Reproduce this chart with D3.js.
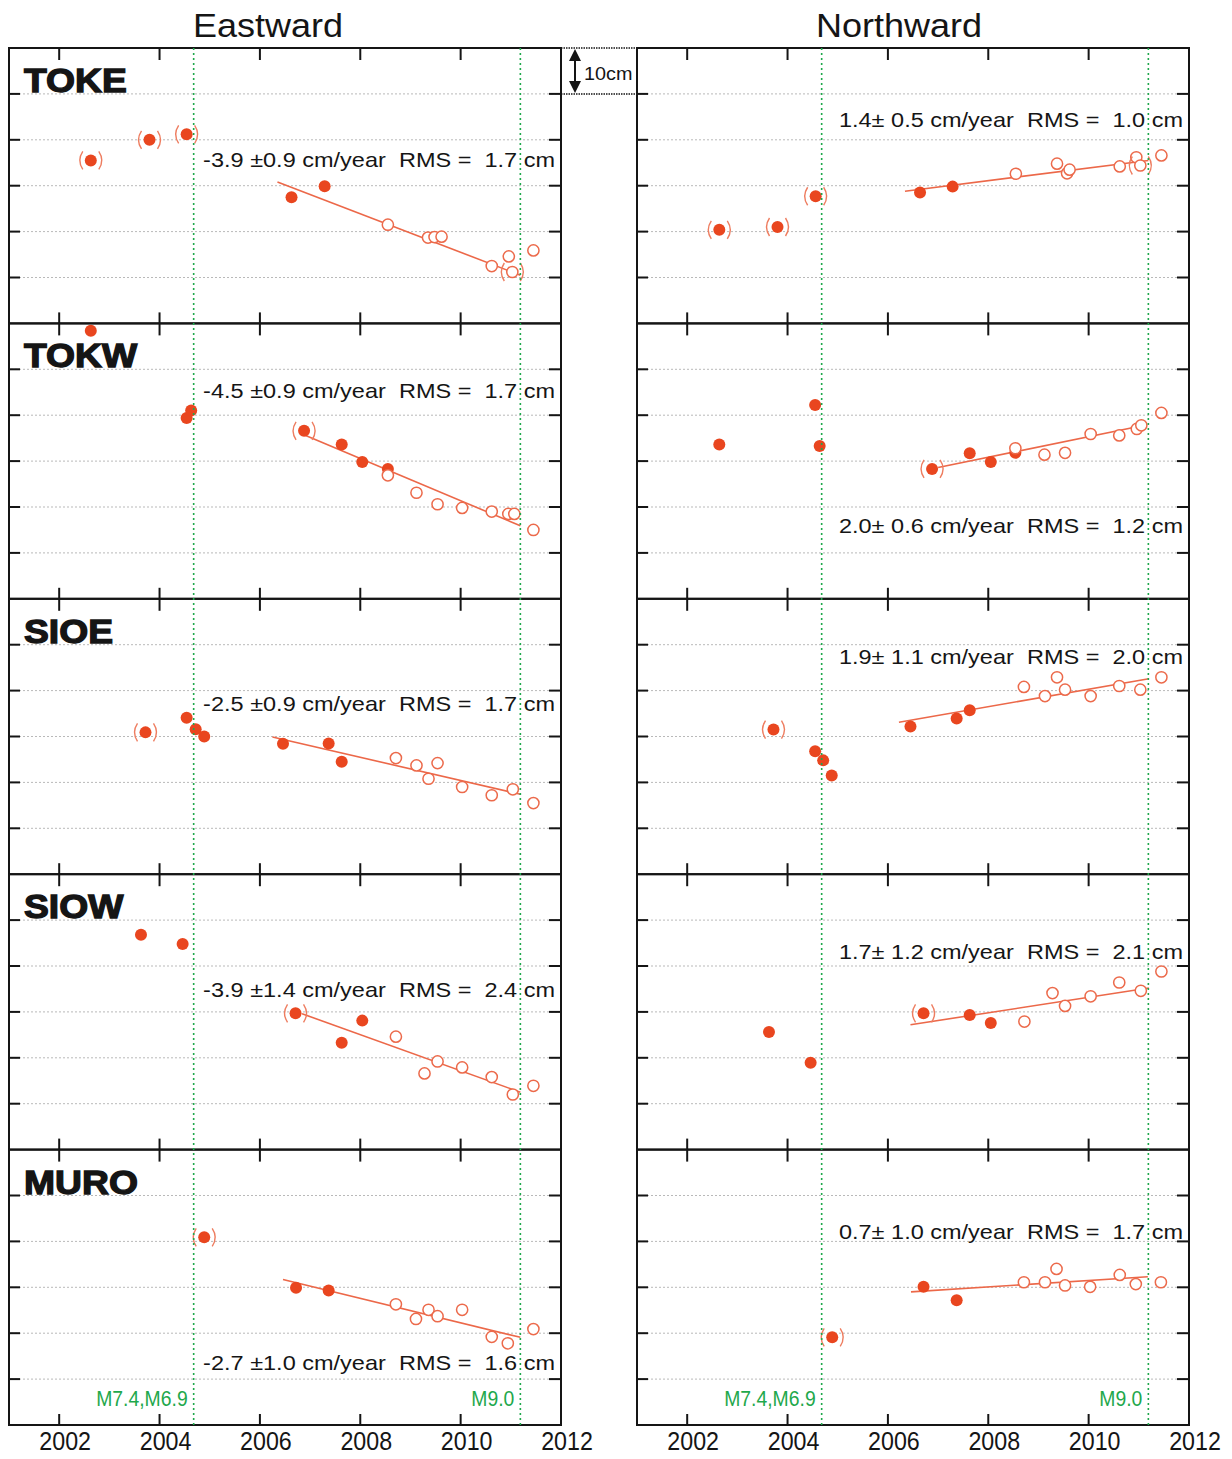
<!DOCTYPE html>
<html>
<head>
<meta charset="utf-8">
<script src="https://cdn.jsdelivr.net/npm/d3@7"></script>
<style>
  body { margin: 0; background: #fff; }
  text { font-family: "Liberation Sans", Arial, Helvetica, sans-serif; white-space: pre; }
</style>
</head>
<body>
<div id="chart"></div>
<script>
// ---- data ----
const stations = ['TOKE', 'TOKW', 'SIOE', 'SIOW', 'MURO'];
const components = ['Eastward', 'Northward'];
const yearTicks = [2002, 2004, 2006, 2008, 2010];
const yearLabels = [2002, 2004, 2006, 2008, 2010, 2012];
const gridCm = [10, 20, 30, 40, 50];
const quakeYears = [2004.68, 2011.19];
const quakeLabels = ['M7.4,M6.9', 'M9.0'];

// velocity fits (cm/year) and RMS (cm)
const rateEast = [-3.9, -4.5, -2.5, -3.9, -2.7];
const errEast = [0.9, 0.9, 0.9, 1.4, 1.0];
const rmsEast = [1.7, 1.7, 1.7, 2.4, 1.6];
const rateNorth = [1.4, 2.0, 1.9, 1.7, 0.7];
const errNorth = [0.5, 0.6, 1.1, 1.2, 1.0];
const rmsNorth = [1.0, 1.2, 2.0, 2.1, 1.7];
// level (cm) where each rate label sits
const labelCmEast = [34.0, 43.7, 35.5, 33.3, 12.0];
const labelCmNorth = [42.8, 14.4, 45.9, 41.5, 40.5];

// points: [year, cm, kind]  f = filled, o = open, pf / po = in parentheses
const tokeE = [
  [2002.63, 35.5, 'pf'], [2003.80, 40.0, 'pf'], [2004.54, 41.2, 'pf'],
  [2006.63, 27.5, 'f'], [2007.29, 29.9, 'f'],
  [2008.55, 21.5, 'o'], [2009.35, 18.7, 'o'], [2009.48, 18.8, 'o'], [2009.62, 18.9, 'o'],
  [2010.62, 12.5, 'o'], [2010.96, 14.6, 'o'], [2011.03, 11.2, 'po'], [2011.45, 15.9, 'o']];
const tokwE = [
  [2002.63, 58.4, 'f'], [2004.54, 39.4, 'f'], [2004.63, 41.0, 'f'],
  [2006.88, 36.6, 'pf'], [2007.63, 33.6, 'f'], [2008.04, 29.8, 'f'], [2008.55, 28.3, 'f'],
  [2008.55, 26.9, 'o'], [2009.12, 23.1, 'o'], [2009.54, 20.6, 'o'], [2010.03, 19.8, 'o'],
  [2010.62, 19.0, 'o'], [2010.95, 18.5, 'o'], [2011.07, 18.5, 'o'], [2011.45, 15.0, 'o']];
const sioeE = [
  [2003.72, 30.9, 'pf'], [2004.54, 34.1, 'f'], [2004.72, 31.6, 'f'], [2004.89, 30.0, 'f'],
  [2006.46, 28.4, 'f'], [2007.37, 28.5, 'f'], [2007.63, 24.5, 'f'],
  [2008.71, 25.3, 'o'], [2009.12, 23.7, 'o'], [2009.36, 20.8, 'o'], [2009.54, 24.2, 'o'],
  [2010.03, 19.0, 'o'], [2010.62, 17.2, 'o'], [2011.04, 18.5, 'o'], [2011.45, 15.5, 'o']];
const siowE = [
  [2003.63, 46.8, 'f'], [2004.46, 44.8, 'f'],
  [2006.71, 29.7, 'pf'], [2007.63, 23.3, 'f'], [2008.04, 28.1, 'f'],
  [2008.71, 24.6, 'o'], [2009.28, 16.6, 'o'], [2009.54, 19.2, 'o'], [2010.03, 17.9, 'o'],
  [2010.62, 15.8, 'o'], [2011.04, 12.0, 'o'], [2011.45, 13.9, 'o']];
const muroE = [
  [2004.89, 40.9, 'pf'], [2006.72, 29.9, 'f'], [2007.37, 29.3, 'f'],
  [2008.71, 26.3, 'o'], [2009.11, 23.1, 'o'], [2009.36, 25.1, 'o'], [2009.54, 23.7, 'o'],
  [2010.03, 25.1, 'o'], [2010.62, 19.2, 'o'], [2010.94, 17.8, 'o'], [2011.45, 20.9, 'o']];

const tokeN = [
  [2002.64, 20.4, 'pf'], [2003.80, 21.0, 'pf'], [2004.56, 27.7, 'pf'],
  [2006.64, 28.5, 'f'], [2007.29, 29.8, 'f'],
  [2008.55, 32.6, 'o'], [2009.37, 34.8, 'o'], [2009.57, 32.7, 'o'], [2009.62, 33.5, 'o'],
  [2010.62, 34.2, 'o'], [2010.95, 36.2, 'o'], [2011.03, 34.4, 'po'], [2011.45, 36.6, 'o']];
const tokwN = [
  [2002.64, 33.6, 'f'], [2004.55, 42.2, 'f'], [2004.64, 33.3, 'f'],
  [2006.88, 28.3, 'pf'], [2007.63, 31.7, 'f'], [2008.05, 29.8, 'f'], [2008.54, 31.8, 'f'],
  [2008.54, 32.8, 'o'], [2009.12, 31.4, 'o'], [2009.53, 31.8, 'o'], [2010.04, 35.9, 'o'],
  [2010.61, 35.6, 'o'], [2010.96, 37.0, 'o'], [2011.05, 37.8, 'o'], [2011.45, 40.5, 'o']];
const sioeN = [
  [2003.72, 31.5, 'pf'], [2004.55, 26.8, 'f'], [2004.71, 24.8, 'f'], [2004.88, 21.5, 'f'],
  [2006.45, 32.2, 'f'], [2007.37, 33.9, 'f'], [2007.63, 35.7, 'f'],
  [2008.71, 40.8, 'o'], [2009.13, 38.8, 'o'], [2009.37, 42.9, 'o'], [2009.53, 40.2, 'o'],
  [2010.04, 38.8, 'o'], [2010.61, 41.0, 'o'], [2011.03, 40.2, 'o'], [2011.45, 42.9, 'o']];
const siowN = [
  [2003.63, 25.6, 'f'], [2004.46, 18.9, 'f'],
  [2006.71, 29.7, 'pf'], [2007.63, 29.3, 'f'], [2008.05, 27.6, 'f'],
  [2008.72, 27.9, 'o'], [2009.28, 34.1, 'o'], [2009.53, 31.3, 'o'], [2010.04, 33.4, 'o'],
  [2010.61, 36.4, 'o'], [2011.04, 34.6, 'o'], [2011.45, 38.8, 'o']];
const muroN = [
  [2004.89, 19.1, 'pf'], [2006.71, 30.1, 'f'], [2007.37, 27.2, 'f'],
  [2008.71, 31.1, 'o'], [2009.13, 31.1, 'o'], [2009.36, 34.0, 'o'], [2009.53, 30.4, 'o'],
  [2010.03, 30.1, 'o'], [2010.62, 32.7, 'o'], [2010.94, 30.7, 'o'], [2011.44, 31.1, 'o']];

// fitted line end points [year, cm]
const fitEast = [
  [[2006.35, 30.8], [2011.19, 10.5]],
  [[2006.84, 35.9], [2011.19, 15.9]],
  [[2006.25, 29.9], [2011.19, 17.4]],
  [[2006.84, 29.6], [2011.19, 12.5]],
  [[2006.46, 31.7], [2011.19, 19.1]]];
const fitNorth = [
  [[2006.34, 28.8], [2011.19, 35.5]],
  [[2007.00, 28.6], [2011.16, 37.9]],
  [[2006.22, 33.1], [2011.20, 42.6]],
  [[2006.45, 27.2], [2011.20, 35.2]],
  [[2006.46, 29.0], [2011.18, 32.3]]];

const pointsEast = [tokeE, tokwE, sioeE, siowE, muroE];
const pointsNorth = [tokeN, tokwN, sioeN, siowN, muroN];

// ---- layout ----
const W = 1232, H = 1459;
const colX = [[9, 561], [637, 1189]];
const top0 = 48, rowH = 275.4;
const C = {
  fill: '#e9461f', open: '#ec6a4b', line: '#ec6849', paren: '#ee7d60',
  grid: '#b9b9b9', green: '#1fa84c', ink: '#151515'
};

const svg = d3.select('#chart').append('svg')
  .attr('width', W).attr('height', H);

// stretched text helper
function stext(g, x, y, str, size, anchor = 'start', sx = 1, fill = C.ink) {
  return g.append('text')
    .attr('transform', `translate(${x},${y}) scale(${sx},1)`)
    .attr('text-anchor', anchor)
    .style('font-size', size + 'px')
    .attr('fill', fill)
    .text(str);
}

const fmt = v => v.toFixed(1);
const rowBottom = r => top0 + (r + 1) * rowH;

components.forEach((comp, c) => {
  const x = d3.scaleLinear().domain([2001, 2012]).range(colX[c]);
  const [x0, x1] = colX[c];
  const g = svg.append('g');

  // column title
  stext(g, c === 0 ? 268 : 899, 37, comp, 34, 'middle', 1.06);

  stations.forEach((st, r) => {
    const y = d3.scaleLinear().domain([0, 60]).range([rowBottom(r), rowBottom(r) - rowH]);
    const p = g.append('g');
    const pts = (c === 0 ? pointsEast : pointsNorth)[r];
    const fit = (c === 0 ? fitEast : fitNorth)[r];

    // grid
    p.selectAll('line.grid').data(gridCm).join('line')
      .attr('x1', x0 + 2).attr('x2', x1 - 2)
      .attr('y1', d => y(d)).attr('y2', d => y(d))
      .attr('stroke', C.grid).attr('stroke-width', 1).attr('stroke-dasharray', '2,2');

    // y ticks (both sides, inward)
    p.selectAll('line.yl').data(gridCm).join('line')
      .attr('x1', x0).attr('x2', x0 + 11)
      .attr('y1', d => y(d)).attr('y2', d => y(d))
      .attr('stroke', C.ink).attr('stroke-width', 2);
    p.selectAll('line.yr').data(gridCm).join('line')
      .attr('x1', x1 - 12).attr('x2', x1)
      .attr('y1', d => y(d)).attr('y2', d => y(d))
      .attr('stroke', C.ink).attr('stroke-width', 2);

    // x ticks top and bottom
    p.selectAll('line.xt').data(yearTicks).join('line')
      .attr('x1', d => x(d)).attr('x2', d => x(d))
      .attr('y1', y(60)).attr('y2', y(60) + 12)
      .attr('stroke', C.ink).attr('stroke-width', 2);
    p.selectAll('line.xb').data(yearTicks).join('line')
      .attr('x1', d => x(d)).attr('x2', d => x(d))
      .attr('y1', y(0) - 11).attr('y2', y(0))
      .attr('stroke', C.ink).attr('stroke-width', 2);

    // frame
    p.append('rect')
      .attr('x', x0).attr('y', y(60)).attr('width', x1 - x0).attr('height', y(0) - y(60))
      .attr('fill', 'none').attr('stroke', C.ink).attr('stroke-width', 2);

    // fitted line
    p.append('path')
      .attr('d', d3.line().x(d => x(d[0])).y(d => y(d[1]))(fit))
      .attr('fill', 'none').attr('stroke', C.line).attr('stroke-width', 1.6);

    // points
    p.selectAll('circle.pt').data(pts).join('circle')
      .attr('cx', d => x(d[0])).attr('cy', d => y(d[1]))
      .attr('r', d => d[2].endsWith('f') ? 6 : 5.6)
      .attr('fill', d => d[2].endsWith('f') ? C.fill : '#fff')
      .attr('stroke', d => d[2].endsWith('f') ? 'none' : C.open)
      .attr('stroke-width', 1.5);

    // parentheses for excluded points
    const par = pts.filter(d => d[2].startsWith('p'));
    p.selectAll('path.pl').data(par).join('path')
      .attr('d', d => {
        const cx = x(d[0]), cy = y(d[1]);
        return `M${cx - 8},${cy - 9} Q${cx - 14},${cy} ${cx - 8},${cy + 9}` +
               `M${cx + 8},${cy - 9} Q${cx + 14},${cy} ${cx + 8},${cy + 9}`;
      })
      .attr('fill', 'none').attr('stroke', C.paren).attr('stroke-width', 1.4);

    // rate label
    const lbl = c === 0
      ? `${fmt(rateEast[r])} ±${fmt(errEast[r])} cm/year  RMS =  ${fmt(rmsEast[r])} cm`
      : `${fmt(rateNorth[r])}± ${fmt(errNorth[r])} cm/year  RMS =  ${fmt(rmsNorth[r])} cm`;
    const lcm = (c === 0 ? labelCmEast : labelCmNorth)[r];
    stext(p, x1 - 6, y(lcm), lbl, 21, 'end', 1.12);

    // station name
    if (c === 0) {
      stext(p, x0 + 15, y(60) + 44, st, 33, 'start', 1.13)
        .style('font-weight', 'bold').attr('stroke', C.ink).attr('stroke-width', 1.3);
    }
  });

  // earthquake lines over full column
  g.selectAll('line.eq').data(quakeYears).join('line')
    .attr('x1', d => x(d)).attr('x2', d => x(d))
    .attr('y1', top0).attr('y2', rowBottom(stations.length - 1))
    .attr('stroke', C.green).attr('stroke-width', 1.6).attr('stroke-dasharray', '2,3');
  quakeYears.forEach((q, i) => {
    stext(g, x(q) - 6, rowBottom(stations.length - 1) - 19, quakeLabels[i], 22, 'end', 0.88, C.green);
  });

  // year labels
  yearLabels.forEach(yr => {
    stext(g, x(yr) + 6, 1450, String(yr), 25, 'middle', 0.93);
  });
});

// 10 cm scale bar between the columns
const yS = d3.scaleLinear().domain([0, 60]).range([rowBottom(0), top0]);
const sb = svg.append('g');
[60, 50].forEach(v => {
  sb.append('line')
    .attr('x1', colX[0][1]).attr('x2', colX[1][0])
    .attr('y1', yS(v)).attr('y2', yS(v))
    .attr('stroke', C.ink).attr('stroke-width', 1.5).attr('stroke-dasharray', '1.5,1');
});
const ax = 575;
sb.append('line').attr('x1', ax).attr('x2', ax)
  .attr('y1', yS(60) + 8).attr('y2', yS(50) - 8)
  .attr('stroke', C.ink).attr('stroke-width', 2);
sb.append('path')
  .attr('d', `M${ax},${yS(60) + 1} L${ax - 6},${yS(60) + 13} L${ax + 6},${yS(60) + 13}Z` +
             `M${ax},${yS(50) - 1} L${ax - 6},${yS(50) - 13} L${ax + 6},${yS(50) - 13}Z`)
  .attr('fill', C.ink);
stext(sb, 584, 80, '10cm', 18, 'start', 1.1);
</script>
</body>
</html>
